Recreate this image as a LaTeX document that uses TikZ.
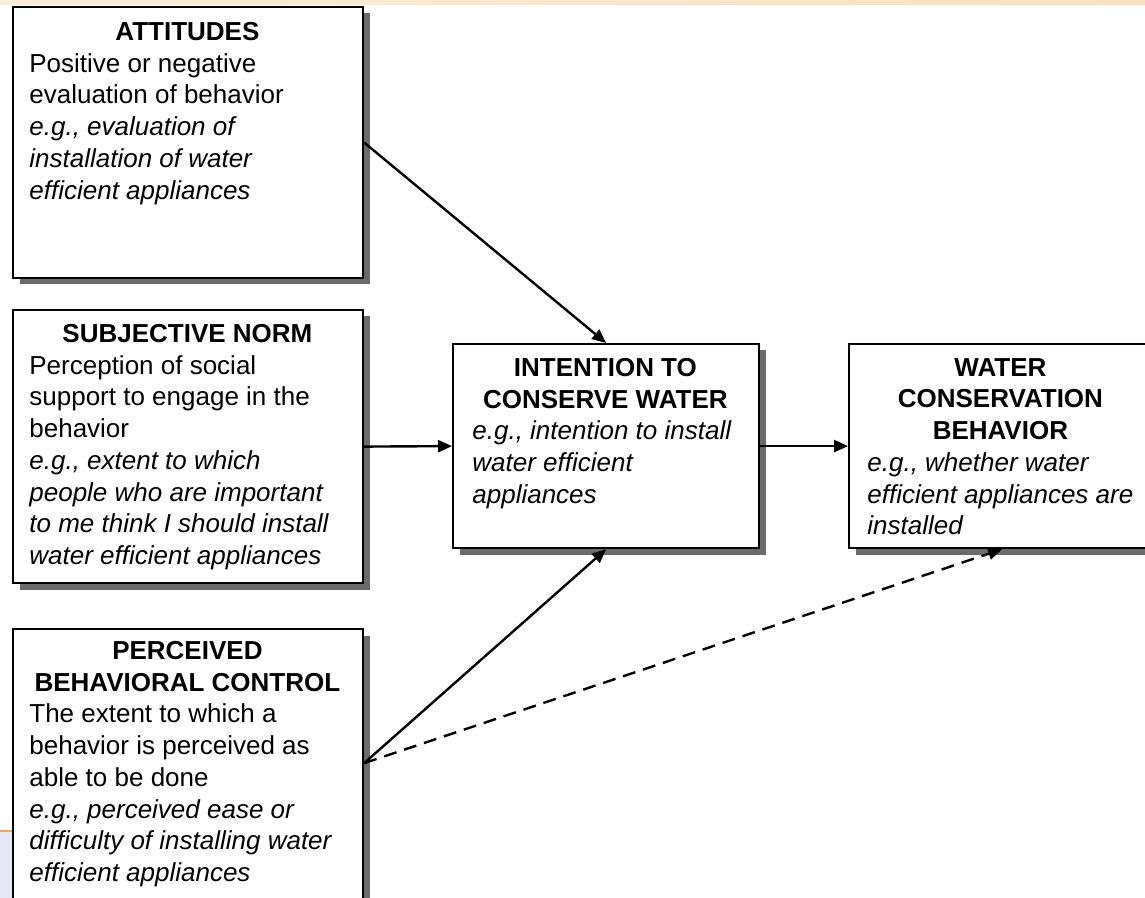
\documentclass[tikz,border=0pt]{standalone}
\usepackage{fontspec}
\setmainfont{Liberation Sans}
\usetikzlibrary{arrows.meta,shadows,calc}

\definecolor{stripl}{HTML}{F7EDDB}
\definecolor{stripr}{HTML}{F9E1BE}
\definecolor{slideline}{HTML}{F0A850}
\definecolor{slideblue}{HTML}{E6E8F7}

\newcommand{\boxtitle}[2]{\makebox[#1]{\textbf{#2}}}

\begin{document}
\begin{tikzpicture}[
                    x=0.5pt, y=-0.5pt,
                    font=\fontsize{13}{15.85}\selectfont,
                    box/.style={draw, line width=1.1pt, fill=white, anchor=north west, inner sep=0pt,
                                drop shadow={shadow xshift=3.2pt, shadow yshift=-3.2pt, fill=black!58, opacity=1}},
                    sidebox/.style={box, minimum width=175pt},
                    midbox/.style={box, minimum width=153pt, minimum height=102pt},
                    txt/.style={anchor=north west, align=left, inner sep=0pt},
                    arr/.style={line width=1.2pt, -{Triangle[length=7pt, width=6pt]}},
                    maybe/.style={arr, dash pattern=on 6.5pt off 4pt}
                ]

                \useasboundingbox (0,0) rectangle (1145,898);

                % slide background
                \shade[left color=stripl, right color=stripr] (0,0) rectangle (1145,5);
                \fill[slideblue] (0,831) rectangle (12,898);
                \draw[slideline, line width=1pt] (0,831) -- (12,831);

                % Attitudes
                \node[sidebox, minimum height=135.5pt] (att) at (12,6) {};
                \node[txt] (att-text) at (29,22) {\boxtitle{158pt}{ATTITUDES}\\
                    Positive or negative\\
                    evaluation of behavior\\
                    \textit{e.g., evaluation of}\\
                    \textit{installation of water}\\
                    \textit{efficient appliances}};

                % Subjective norm
                \node[sidebox, minimum height=136.5pt] (sn) at (12,309) {};
                \node[txt] (sn-text) at (29,324) {\boxtitle{158pt}{SUBJECTIVE NORM}\\
                    Perception of social\\
                    support to engage in the\\
                    behavior\\
                    \textit{e.g., extent to which}\\
                    \textit{people who are important}\\
                    \textit{to me think I should install}\\
                    \textit{water efficient appliances}};

                % Perceived behavioral control
                \node[sidebox, minimum height=141pt] (pbc) at (12,628) {};
                \node[txt] (pbc-text) at (29,641) {\boxtitle{158pt}{PERCEIVED}\\
                    \boxtitle{158pt}{BEHAVIORAL CONTROL}\\
                    The extent to which a\\
                    behavior is perceived as\\
                    able to be done\\
                    \textit{e.g., perceived ease or}\\
                    \textit{difficulty of installing water}\\
                    \textit{efficient appliances}};

                % Intention
                \node[midbox] (int) at (452,343) {};
                \node[txt] (int-text) at (472,358) {\boxtitle{133pt}{INTENTION TO}\\
                    \boxtitle{133pt}{CONSERVE WATER}\\
                    \textit{e.g., intention to install}\\
                    \textit{water efficient}\\
                    \textit{appliances}};

                % Behavior
                \node[midbox] (wat) at (848,343) {};
                \node[txt] (wat-text) at (867,358) {\boxtitle{133pt}{WATER}\\
                    \boxtitle{133pt}{CONSERVATION}\\
                    \boxtitle{133pt}{BEHAVIOR}\\
                    \textit{e.g., whether water}\\
                    \textit{efficient appliances are}\\
                    \textit{installed}};

                % paths
                \coordinate (pbc-out) at ([yshift=3.5pt]pbc.east);
                \draw[arr] (att.east) -- (int.north);
                \draw[arr] (sn.east) -- (int.west);
                \draw[arr] (pbc-out) -- (int.south);
                \draw[maybe] (pbc-out) -- (wat.south);
                \draw[arr] (int.east) -- (wat.west);

            \end{tikzpicture}
\end{document}
